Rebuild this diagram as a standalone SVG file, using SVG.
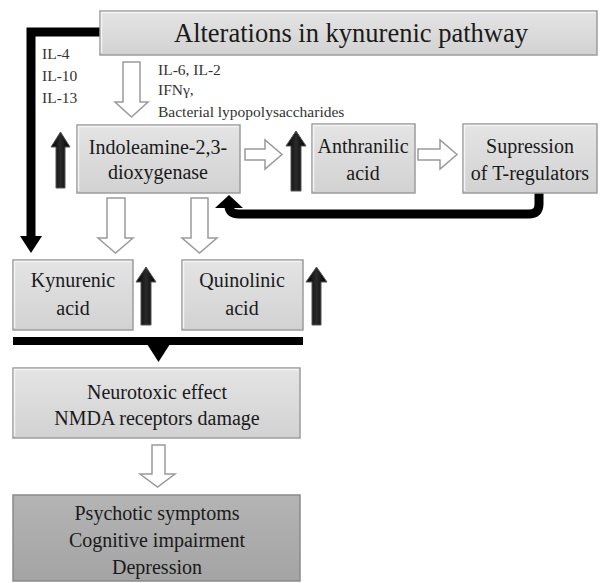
<svg xmlns="http://www.w3.org/2000/svg" width="601" height="583" viewBox="0 0 601 583">
<defs>
<linearGradient id="g" x1="0" y1="0" x2="0" y2="1">
<stop offset="0" stop-color="#e4e4e4"/>
<stop offset="1" stop-color="#d2d2d2"/>
</linearGradient>
<linearGradient id="gd" x1="0" y1="0" x2="0" y2="1">
<stop offset="0" stop-color="#b4b4b4"/>
<stop offset="1" stop-color="#a4a4a4"/>
</linearGradient>
<linearGradient id="ga" x1="0" y1="0" x2="1" y2="0">
<stop offset="0" stop-color="#000"/>
<stop offset="0.5" stop-color="#2a2a2a"/>
<stop offset="1" stop-color="#000"/>
</linearGradient>
</defs>
<style>
.box{fill:url(#g);stroke:#9c9c9c;stroke-width:1.5}
.dark{fill:url(#gd);stroke:#8a8a8a;stroke-width:1.5}
.hl{fill:none;stroke:#f4f4f4;stroke-width:1.5}
.t{font-family:"Liberation Serif","Times New Roman",serif;fill:#1a1a1a;text-anchor:middle}
.s{font-family:"Liberation Serif","Times New Roman",serif;fill:#333;font-size:15.5px}
.hol{fill:#fff;stroke:#9a9a9a;stroke-width:1.5;stroke-linejoin:miter}
.up{fill:url(#ga);stroke:#555;stroke-width:1}
.line{fill:none;stroke:#000;stroke-width:9}
</style>
<rect width="601" height="583" fill="#fff"/>

<g id="connectors">
<path class="line" d="M100,32 H31 V238"/>
<polygon points="20,236 42,236 31,253" fill="#000"/>
<path class="line" d="M539,193 V204 Q539,214 529,214 H239 Q229,214 229,206" stroke-width="8"/>
<polygon points="215,208 243,208 229,195" fill="#000"/>
<rect x="13" y="337" width="290" height="8" fill="#000"/>
<polygon points="147,344 170,344 158.5,362" fill="#000"/>
<polygon class="hol" points="123,62 140,62 140,102 148,102 131.5,117 115,102 123,102"/>
<polygon class="hol" points="107,198 125,198 125,238 133,238 115.5,253 98,238 107,238"/>
<polygon class="hol" points="191,198 208,198 208,238 217,238 199.5,253 182,238 191,238"/>
<polygon class="hol" points="245,149 265,149 265,140 282,154.5 265,169 265,160 245,160"/>
<polygon class="hol" points="418,149 440,149 440,140 457,154.5 440,169 440,160 418,160"/>
<polygon class="hol" points="152,445 165,445 165,474 175,474 157.5,487 140,474 152,474"/>
<polygon class="up" points="56,188 65,188 65,147 70,147 60.5,132 51,147 56,147"/>
<polygon class="up" points="291,191 301,191 301,146 306,146 296,131 286,146 291,146"/>
<polygon class="up" points="141,325 151,325 151,282 156,282 146,267 136,282 141,282"/>
<polygon class="up" points="312,325 321,325 321,282 327,282 316.5,267 306,282 312,282"/>
</g>

<g id="title">
<rect class="box" x="100" y="11" width="497" height="44"/>
<polyline class="hl" points="101.5,53 101.5,12.5 595.5,12.5"/>
<text class="t" x="351" y="42" font-size="26.5">Alterations in kynurenic pathway</text>
</g>

<g id="labels">
<text class="s" x="42" y="59">IL-4</text>
<text class="s" x="42" y="81">IL-10</text>
<text class="s" x="42" y="103">IL-13</text>
<text class="s" x="158" y="75">IL-6, IL-2</text>
<text class="s" x="158" y="95">IFNγ,</text>
<text class="s" x="158" y="117">Bacterial lypopolysaccharides</text>
</g>

<g id="ido">
<rect class="box" x="77" y="125" width="163" height="68"/>
<polyline class="hl" points="78.5,191 78.5,126.5 238.5,126.5"/>
<text class="t" x="158" y="154" font-size="20">Indoleamine-2,3-</text>
<text class="t" x="158" y="179" font-size="20">dioxygenase</text>
</g>

<g id="anthranilic">
<rect class="box" x="312" y="124" width="103" height="69"/>
<polyline class="hl" points="313.5,191 313.5,125.5 413.5,125.5"/>
<text class="t" x="363" y="153" font-size="20">Anthranilic</text>
<text class="t" x="363" y="180" font-size="20">acid</text>
</g>

<g id="supression">
<rect class="box" x="463" y="124" width="134" height="69"/>
<polyline class="hl" points="464.5,191 464.5,125.5 595.5,125.5"/>
<text class="t" x="530" y="153" font-size="20">Supression</text>
<text class="t" x="530" y="180" font-size="20">of T-regulators</text>
</g>

<g id="kynurenic">
<rect class="box" x="13" y="260" width="120" height="70"/>
<polyline class="hl" points="14.5,328 14.5,261.5 131.5,261.5"/>
<text class="t" x="73" y="287" font-size="20">Kynurenic</text>
<text class="t" x="73" y="315" font-size="20">acid</text>
</g>

<g id="quinolinic">
<rect class="box" x="182" y="260" width="121" height="70"/>
<polyline class="hl" points="183.5,328 183.5,261.5 301.5,261.5"/>
<text class="t" x="242" y="287" font-size="20">Quinolinic</text>
<text class="t" x="242" y="315" font-size="20">acid</text>
</g>

<g id="neurotoxic">
<rect class="box" x="13" y="368" width="287" height="70"/>
<polyline class="hl" points="14.5,436 14.5,369.5 298.5,369.5"/>
<text class="t" x="157" y="399" font-size="20">Neurotoxic effect</text>
<text class="t" x="157" y="425" font-size="20">NMDA receptors damage</text>
</g>

<g id="psychotic">
<rect class="dark" x="13" y="495" width="287" height="86"/>
<text class="t" x="157" y="520" font-size="20">Psychotic symptoms</text>
<text class="t" x="157" y="547" font-size="20">Cognitive impairment</text>
<text class="t" x="157" y="574" font-size="20">Depression</text>
</g>
</svg>
